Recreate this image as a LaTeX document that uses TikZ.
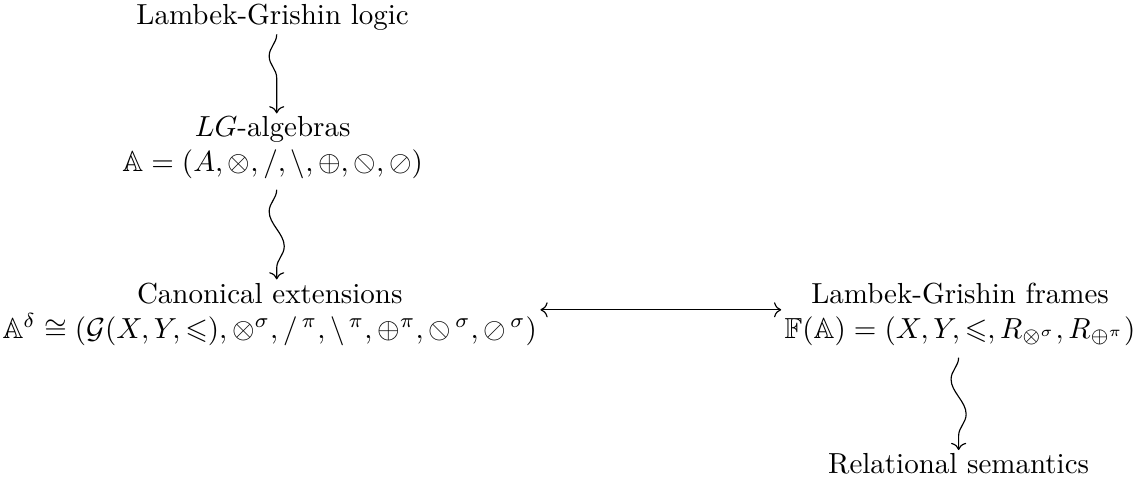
\documentclass[tikz,border=0pt]{standalone}
\usepackage{amsmath, amssymb}
\usepackage{stmaryrd}
\usepackage{tikz}
\usetikzlibrary{arrows.meta, decorations.pathmorphing}

\tikzset{
  squig/.style={->, decorate, decoration={snake, amplitude=-2.6pt, segment length=24pt, post length=2pt}}
}

\begin{document}
\begin{tikzpicture}[>={Computer Modern Rightarrow}, x=1pt, y=1pt, inner sep=1pt]
\useasboundingbox (0,0) rectangle (392,-167.2);

% Nodes
\node[anchor=base] (logic) at (94,-8.6) {Lambek-Grishin logic};
\node[align=center] (alg) at (94,-51) {$LG$-algebras\\ $\mathbb{A}=(A,\otimes,/,\backslash,\oplus,\obslash,\oslash)$};
\node[align=center] (canon) at (93,-108.3) {Canonical extensions\\ $\mathbb{A}^\delta\cong(\mathcal{G}(X,Y,\leqslant),\otimes^\sigma,/^{\,\pi},\backslash^{\,\pi},\oplus^\pi,\obslash^{\,\sigma},\oslash^{\,\sigma})$};
\node[align=center] (frames) at (331,-108.3) {Lambek-Grishin frames\\ $\mathbb{F}(\mathbb{A})=(X,Y,\leqslant,R_{\otimes^\sigma},R_{\oplus^\pi})$};
\node[anchor=base] (sem) at (330.5,-163.3) {Relational semantics};

% Arrows
\draw[squig] ([xshift=1.4pt]logic.south) -- ([xshift=1.4pt]alg.north);
\draw[squig] ([xshift=1.4pt,yshift=-2.5pt]alg.south) -- ([xshift=1.4pt]alg.south |- canon.north);
\draw[<->] ([yshift=1.5pt]canon.east) -- ([yshift=1.5pt]frames.west);
\draw[squig] ([yshift=-3pt]frames.south -| sem.north) -- (sem.north);
\end{tikzpicture}
\end{document}
